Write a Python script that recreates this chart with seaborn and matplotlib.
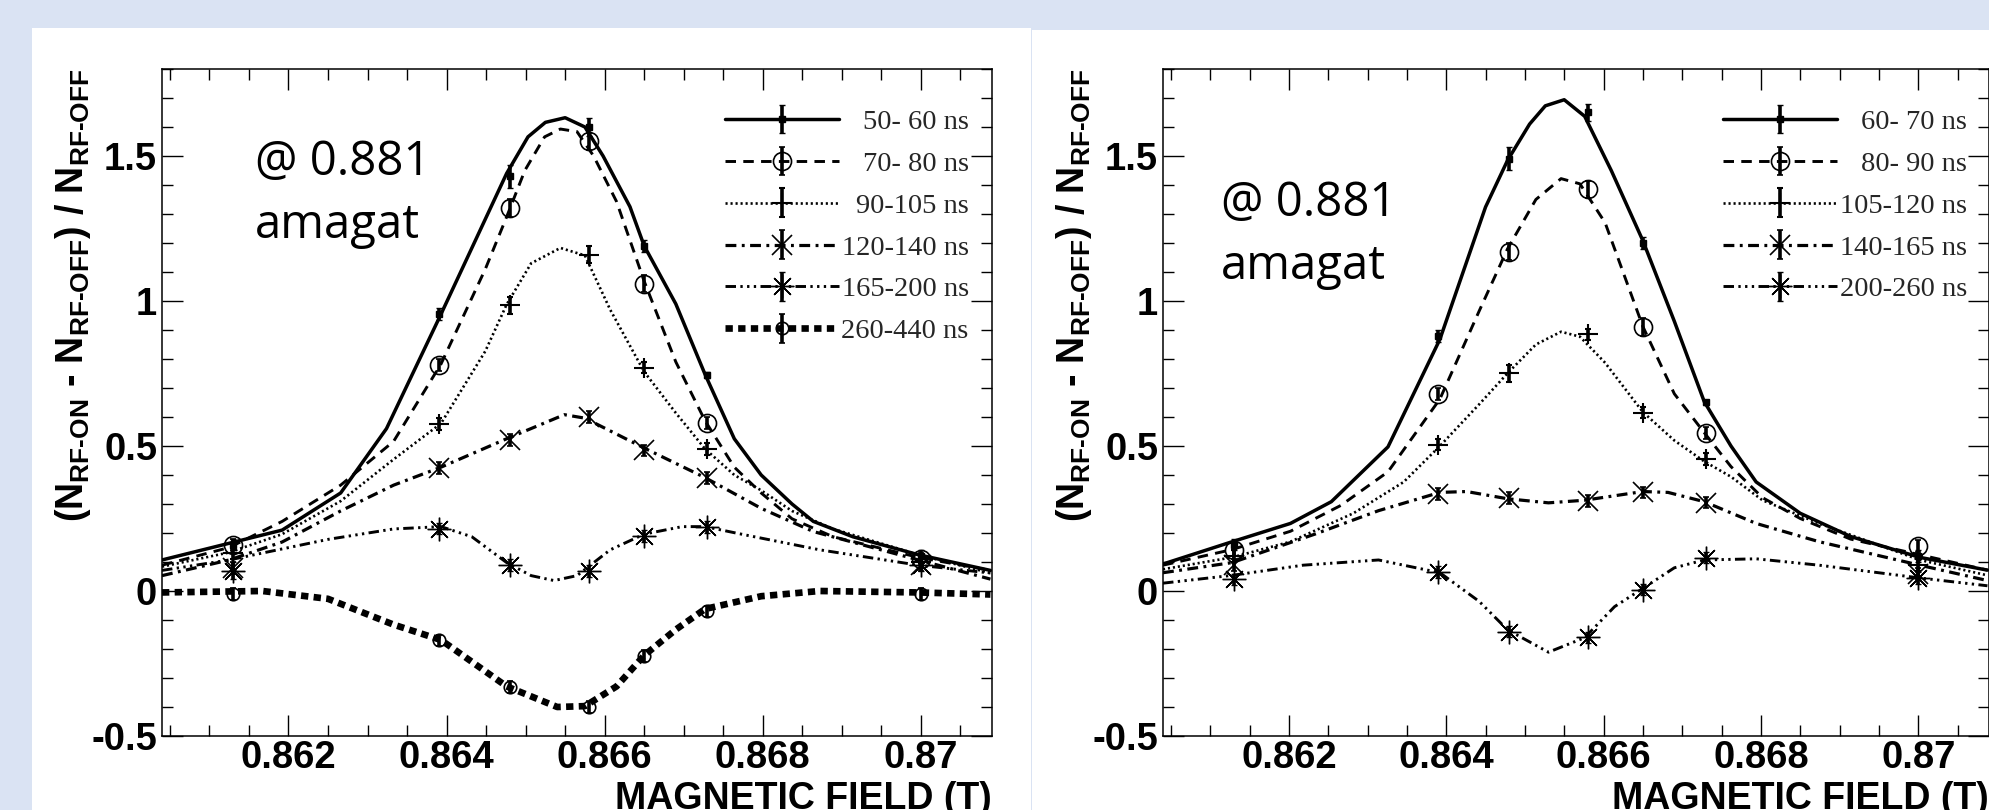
import matplotlib
matplotlib.use("Agg")
from matplotlib import pyplot as plt
from matplotlib.patches import Rectangle
from matplotlib.ticker import MultipleLocator, FuncFormatter
from matplotlib.transforms import ScaledTranslation
import seaborn as sns

# field values where the data points were taken (same in both panels)
field_pts = [0.8613, 0.8639, 0.8648, 0.8658, 0.8665, 0.8673, 0.8700]

# ---------------- left panel ----------------
left_labels = ["50- 60 ns", "70- 80 ns", "90-105 ns", "120-140 ns", "165-200 ns", "260-440 ns"]

left_c1_x = [0.8604, 0.86192, 0.86266, 0.86324, 0.86393, 0.86476, 0.86503, 0.86525, 0.8655, 0.86575, 0.86598,
             0.86632, 0.8665, 0.8669, 0.86727, 0.86764, 0.86798, 0.86837, 0.86864, 0.86914, 0.86997, 0.87088]
left_c1_y = [0.107, 0.21, 0.338, 0.56, 0.955, 1.44, 1.566, 1.616, 1.632, 1.60, 1.50,
             1.325, 1.19, 0.99, 0.747, 0.525, 0.40, 0.30, 0.24, 0.187, 0.125, 0.071]
left_c2_x = [0.8604, 0.86125, 0.86192, 0.86266, 0.86333, 0.86393, 0.86449, 0.86476, 0.86499, 0.86524, 0.86544, 0.86565,
             0.86586, 0.86615, 0.8665, 0.8669, 0.86727, 0.86764, 0.86798, 0.86837, 0.86889, 0.86997, 0.87088]
left_c2_y = [0.089, 0.15, 0.24, 0.365, 0.516, 0.783, 1.11, 1.29, 1.45, 1.566, 1.593, 1.584,
             1.50, 1.343, 1.068, 0.79, 0.587, 0.427, 0.338, 0.249, 0.187, 0.116, 0.071]
left_c3_x = [0.8604, 0.86125, 0.86192, 0.86266, 0.86333, 0.86393, 0.86449, 0.86476, 0.86507, 0.86544, 0.86575,
             0.86607, 0.8665, 0.8669, 0.86727, 0.86764, 0.86798, 0.86837, 0.86889, 0.86997, 0.87088]
left_c3_y = [0.084, 0.133, 0.196, 0.31, 0.454, 0.578, 0.827, 0.988, 1.13, 1.183, 1.157,
             0.97, 0.756, 0.614, 0.49, 0.40, 0.347, 0.276, 0.214, 0.125, 0.062]
left_c4_x = [0.8604, 0.86125, 0.86192, 0.86266, 0.86333, 0.86393, 0.86476, 0.86549, 0.86575, 0.8665, 0.86727,
             0.86798, 0.86864, 0.86997, 0.87088]
left_c4_y = [0.053, 0.107, 0.169, 0.276, 0.365, 0.427, 0.525, 0.608, 0.596, 0.493, 0.391,
             0.285, 0.205, 0.107, 0.041]
left_c5_x = [0.8604, 0.86125, 0.8625, 0.86333, 0.86393, 0.86432, 0.86476, 0.86507, 0.86536, 0.86565, 0.86607,
             0.8665, 0.86698, 0.86727, 0.86773, 0.86872, 0.86997, 0.87088]
left_c5_y = [0.071, 0.107, 0.178, 0.214, 0.222, 0.187, 0.098, 0.053, 0.036, 0.053, 0.142,
             0.196, 0.222, 0.222, 0.196, 0.142, 0.089, 0.062]
left_c6_x = [0.8604, 0.86167, 0.8625, 0.86333, 0.86393, 0.86476, 0.8654, 0.86575, 0.86615, 0.8665, 0.8669,
             0.86727, 0.86798, 0.86872, 0.86997, 0.87088]
left_c6_y = [-0.005, 0.0, -0.027, -0.116, -0.169, -0.329, -0.40, -0.397, -0.329, -0.222, -0.133,
             -0.062, -0.018, 0.0, -0.005, -0.012]

left_p1 = [0.16, 0.955, 1.43, 1.60, 1.19, 0.745, 0.12]
left_p2 = [0.16, 0.78, 1.32, 1.55, 1.06, 0.58, 0.11]
left_p3 = [0.13, 0.575, 0.985, 1.16, 0.77, 0.49, 0.10]
left_p4 = [0.08, 0.425, 0.52, 0.60, 0.485, 0.39, 0.09]
left_p5 = [0.07, 0.215, 0.09, 0.07, 0.19, 0.22, 0.09]
left_p6 = [-0.01, -0.17, -0.33, -0.40, -0.225, -0.07, -0.01]

left_e1 = [0.02, 0.02, 0.04, 0.03, 0.02, 0.01, 0.02]
left_e2 = [0.02, 0.02, 0.03, 0.03, 0.03, 0.02, 0.02]
left_e3 = [0.02, 0.02, 0.03, 0.03, 0.02, 0.02, 0.02]
left_e4 = [0.02, 0.02, 0.02, 0.02, 0.02, 0.02, 0.02]
left_e5 = [0.03, 0.02, 0.02, 0.02, 0.02, 0.02, 0.02]
left_e6 = [0.02, 0.02, 0.02, 0.02, 0.02, 0.02, 0.02]

# ---------------- right panel ----------------
right_labels = ["60- 70 ns", "80- 90 ns", "105-120 ns", "140-165 ns", "200-260 ns"]

right_c1_x = [0.8604, 0.86128, 0.86202, 0.86254, 0.86326, 0.86392, 0.8645, 0.86478, 0.86506, 0.86526, 0.8655,
              0.86576, 0.8661, 0.8665, 0.8669, 0.86728, 0.86762, 0.86794, 0.8685, 0.86914, 0.87002, 0.87088]
right_c1_y = [0.093, 0.17, 0.233, 0.308, 0.497, 0.868, 1.324, 1.485, 1.61, 1.673, 1.694,
              1.637, 1.449, 1.208, 0.93, 0.653, 0.50, 0.376, 0.268, 0.188, 0.116, 0.072]
right_c2_x = [0.8604, 0.86128, 0.86202, 0.86266, 0.86326, 0.86392, 0.86442, 0.86478, 0.86514, 0.86546, 0.8657,
              0.86602, 0.8665, 0.8669, 0.86728, 0.86762, 0.86802, 0.8685, 0.86914, 0.87002, 0.87088]
right_c2_y = [0.089, 0.143, 0.206, 0.295, 0.411, 0.662, 0.966, 1.18, 1.35, 1.422, 1.404,
              1.27, 0.912, 0.68, 0.546, 0.429, 0.322, 0.25, 0.179, 0.125, 0.072]
right_c3_x = [0.8604, 0.86128, 0.86202, 0.86282, 0.86346, 0.86392, 0.86442, 0.86478, 0.86514, 0.86546, 0.8657,
              0.86602, 0.8665, 0.8669, 0.86728, 0.86762, 0.86802, 0.86874, 0.87002, 0.87088]
right_c3_y = [0.075, 0.116, 0.17, 0.268, 0.376, 0.50, 0.644, 0.751, 0.85, 0.894, 0.877,
              0.787, 0.617, 0.519, 0.447, 0.394, 0.313, 0.233, 0.107, 0.054]
right_c4_x = [0.8604, 0.86128, 0.86234, 0.86314, 0.86392, 0.86426, 0.86478, 0.8653, 0.86576, 0.8665, 0.86682,
              0.86728, 0.86794, 0.86874, 0.87002, 0.87088]
right_c4_y = [0.063, 0.098, 0.197, 0.277, 0.34, 0.343, 0.318, 0.304, 0.313, 0.343, 0.34,
              0.308, 0.233, 0.17, 0.089, 0.036]
right_c5_x = [0.8604, 0.86128, 0.86218, 0.86314, 0.86392, 0.86442, 0.86478, 0.8653, 0.86576, 0.86614, 0.8665,
              0.8669, 0.86728, 0.86794, 0.86874, 0.87002, 0.87088]
right_c5_y = [0.027, 0.054, 0.089, 0.107, 0.063, -0.036, -0.134, -0.211, -0.161, -0.054, 0.009,
              0.08, 0.107, 0.111, 0.089, 0.045, 0.018]

right_p1 = [0.16, 0.88, 1.49, 1.65, 1.20, 0.65, 0.12]
right_p2 = [0.14, 0.68, 1.17, 1.385, 0.91, 0.545, 0.155]
right_p3 = [0.12, 0.505, 0.75, 0.885, 0.615, 0.455, 0.09]
right_p4 = [0.09, 0.335, 0.32, 0.31, 0.34, 0.305, 0.06]
right_p5 = [0.04, 0.065, -0.14, -0.16, 0.005, 0.115, 0.045]

right_e1 = [0.02, 0.02, 0.04, 0.03, 0.02, 0.01, 0.02]
right_e2 = [0.02, 0.02, 0.03, 0.03, 0.03, 0.02, 0.02]
right_e3 = [0.02, 0.02, 0.03, 0.02, 0.02, 0.02, 0.02]
right_e4 = [0.02, 0.02, 0.02, 0.02, 0.02, 0.02, 0.02]
right_e5 = [0.02, 0.02, 0.02, 0.02, 0.02, 0.02, 0.02]

# ROOT-like line styles / markers, one per series slot
LINE_STYLES = [
    dict(lw=2.5, ls="-"),
    dict(lw=2.1, ls=(0, (3.6, 2.5))),
    dict(lw=1.9, ls=(0, (0.8, 1.1))),
    dict(lw=2.3, ls=(0, (3.4, 1.7, 0.9, 1.7))),
    dict(lw=2.1, ls=(0, (3.6, 1.5, 0.8, 1.5, 0.8, 1.5, 0.8, 1.5))),
    dict(lw=4.8, ls=(0, (1.1, 0.8))),
]
MARKERS = [
    dict(marker="s", ms=4, mfc="black", mew=1.0),
    dict(marker="o", ms=13, mfc="none", mew=1.2),
    dict(marker="+", ms=14, mfc="none", mew=1.5),
    dict(marker="x", ms=15, mfc="none", mew=1.2),
    dict(marker=(8, 2, 0), ms=17, mfc="none", mew=1.0),
    dict(marker="o", ms=9, mfc="none", mew=1.2),
]

sns.set_theme(style="ticks")
plt.rcParams["font.family"] = ["Liberation Sans", "DejaVu Sans"]
plt.rcParams["font.weight"] = "bold"
plt.rcParams["axes.labelweight"] = "bold"
plt.rcParams["mathtext.fontset"] = "custom"
plt.rcParams["mathtext.rm"] = "Liberation Sans"
plt.rcParams["mathtext.bf"] = "Liberation Sans:bold"
plt.rcParams["mathtext.it"] = "Liberation Sans:italic"

W, H = 1990, 810
fig = plt.figure(figsize=(W / 100, H / 100), dpi=100)
fig.patch.set_facecolor("#dae3f3")
fig.add_artist(Rectangle((32 / W, 0), (1031 - 32) / W, (H - 28) / H, transform=fig.transFigure,
                         facecolor="white", edgecolor="none", zorder=0))
fig.add_artist(Rectangle((1032 / W, 0), (W - 1032) / W, (H - 30) / H, transform=fig.transFigure,
                         facecolor="white", edgecolor="none", zorder=0))

HY = "\u2010"
ylab = ("$\\mathbf{(N_{RF" + HY + "ON}\\ " + HY + "\\ N_{RF" + HY + "OFF})\\ /\\ N_{RF" + HY + "OFF}}$")


def draw_panel(ax, curves, points, errs, labels, note_xy):
    handles = []
    for i, ((cx, cy), py, pe) in enumerate(zip(curves, points, errs)):
        st = LINE_STYLES[i]
        sns.lineplot(x=cx, y=cy, ax=ax, color="black", lw=st["lw"], linestyle=st["ls"],
                     sort=False, estimator=None, errorbar=None)
        line = ax.lines[-1]
        eb = ax.errorbar(field_pts, py, yerr=pe, ls="none", color="black", mec="black",
                         ecolor="black", elinewidth=2.6, capsize=2.5, capthick=1.6, zorder=5,
                         **MARKERS[i])
        handles.append((line, eb))

    ax.set_xlim(0.8604, 0.8709)
    ax.set_ylim(-0.5, 1.8)
    ax.xaxis.set_major_locator(MultipleLocator(0.002))
    ax.xaxis.set_minor_locator(MultipleLocator(0.0005))
    ax.yaxis.set_major_locator(MultipleLocator(0.5))
    ax.yaxis.set_minor_locator(MultipleLocator(0.1))
    fmt = FuncFormatter(lambda v, p: f"{v:g}")
    ax.xaxis.set_major_formatter(fmt)
    ax.yaxis.set_major_formatter(fmt)
    ax.tick_params(which="both", direction="in", top=True, right=True, color="black", width=1.0)
    ax.tick_params(which="major", length=15, labelsize=27.5, labelcolor="black")
    ax.tick_params(which="minor", length=8)
    ax.tick_params(axis="y", pad=3.5)
    ax.tick_params(axis="x", pad=3)
    for sp in ax.spines.values():
        sp.set_linewidth(1.1)
        sp.set_color("black")
    ax.set_facecolor("white")

    ax.set_xlabel("MAGNETIC FIELD (T)", fontsize=27, loc="right", color="black")
    ax.xaxis.set_label_coords(1.0, -0.067)
    ax.set_ylabel(ylab, fontsize=27, loc="top", color="black")
    ax.yaxis.set_label_coords(-0.083, 1.0)

    leg = ax.legend(handles, labels, loc="upper left", bbox_to_anchor=(0.678, 0.940), frameon=False,
                    prop={"family": "Liberation Serif", "size": 20.5, "weight": "normal"},
                    handlelength=4.0, handletextpad=0.1, labelspacing=0.56, borderpad=0,
                    borderaxespad=0, numpoints=1)

    nx, ny1, ny2 = note_xy
    ax.text(nx, ny1, "@ 0.881", transform=ax.transAxes, fontsize=34, family="Open Sans",
            fontweight="normal", va="baseline", ha="left", color="black")
    ax.text(nx, ny2, "amagat", transform=ax.transAxes, fontsize=34, family="Open Sans",
            fontweight="normal", va="baseline", ha="left", color="black")
    return leg


ax_l = fig.add_axes([162 / W, (H - 736) / H, 830 / W, 667 / H])
leg_l = draw_panel(
    ax_l,
    [(left_c1_x, left_c1_y), (left_c2_x, left_c2_y), (left_c3_x, left_c3_y),
     (left_c4_x, left_c4_y), (left_c5_x, left_c5_y), (left_c6_x, left_c6_y)],
    [left_p1, left_p2, left_p3, left_p4, left_p5, left_p6],
    [left_e1, left_e2, left_e3, left_e4, left_e5, left_e6],
    left_labels,
    (0.112, 0.841, 0.747),
)

ax_r = fig.add_axes([1163 / W, (H - 736) / H, 826 / W, 667 / H])
leg_r = draw_panel(
    ax_r,
    [(right_c1_x, right_c1_y), (right_c2_x, right_c2_y), (right_c3_x, right_c3_y),
     (right_c4_x, right_c4_y), (right_c5_x, right_c5_y)],
    [right_p1, right_p2, right_p3, right_p4, right_p5],
    [right_e1, right_e2, right_e3, right_e4, right_e5],
    right_labels,
    (0.070, 0.780, 0.685),
)

# ROOT legends right-align their entry texts
renderer = fig.canvas.get_renderer()
for leg in (leg_l, leg_r):
    texts = leg.get_texts()
    widths = [t.get_window_extent(renderer).width for t in texts]
    wmax = max(widths)
    for t, w in zip(texts, widths):
        t.set_transform(t.get_transform() + ScaledTranslation((wmax - w) / fig.dpi, 0, fig.dpi_scale_trans))

fig.savefig("out.png", dpi=100, facecolor=fig.get_facecolor())
